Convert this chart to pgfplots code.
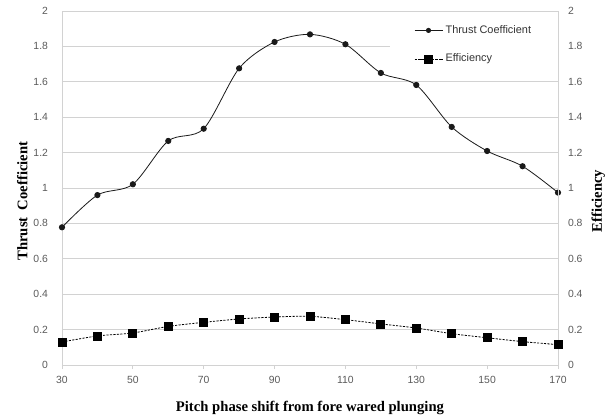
\documentclass[border=0pt]{standalone}
\usepackage{fontspec}
\setmainfont{Liberation Serif}
\newfontfamily\tickfont{Liberation Sans}
\usepackage{pgfplots}
\pgfplotsset{compat=1.18}
\definecolor{gridc}{RGB}{210,210,210}
\definecolor{tickc}{RGB}{90,90,90}
\begin{document}
\begin{tikzpicture}
\useasboundingbox (-46.5pt,-39.75pt) rectangle (414.75pt,273.75pt);
\begin{axis}[
  scale only axis, width=372pt, height=265.5pt,
  xmin=30, xmax=170, ymin=0, ymax=2,
  xtick={30,50,...,170},
  ytick={0,0.2,...,2.01},
  axis line style={gridc},
  ymajorgrids, grid style={gridc, line width=0.6pt},
  /pgf/number format/assume math mode=true,
  ticklabel style={font=\tickfont\fontsize{7.8}{9}\selectfont, text=tickc},
  x tick style={gridc, line width=0.6pt}, xtick pos=lower, tick align=outside,
  major tick length=3pt,
  y tick style={draw=none}, ytick pos=left,
  yticklabel style={xshift=-4pt},
  xticklabel style={yshift=-2pt},
  xlabel={Pitch phase shift from fore wared plunging},
  ylabel={Thrust\ \ Coefficient},
  label style={font=\fontsize{11}{13}\selectfont\bfseries},
  ylabel style={at={(ticklabel cs:0.463)}},
  xlabel shift=6pt, ylabel shift=-2.5pt,
]
\addplot[black!90, line width=0.6pt, smooth, tension=0.5, mark=*, mark size=2pt] coordinates {
(30,0.778) (40,0.960) (50,1.021) (60,1.266) (70,1.335) (80,1.676) (90,1.825) (100,1.868)
(110,1.812) (120,1.650) (130,1.582) (140,1.345) (150,1.209) (160,1.123) (170,0.974)};
\end{axis}
\begin{axis}[
  scale only axis, width=372pt, height=265.5pt,
  xmin=30, xmax=170, ymin=0, ymax=2,
  axis x line=none, axis y line*=right,
  ytick={0,0.2,...,2.01},
  axis line style={gridc},
  /pgf/number format/assume math mode=true,
  ticklabel style={font=\tickfont\fontsize{7.8}{9}\selectfont, text=tickc},
  y tick style={draw=none},
  yticklabel style={xshift=4pt},
  ylabel={Efficiency},
  label style={font=\fontsize{11}{13}\selectfont\bfseries},
  ylabel style={at={(ticklabel cs:0.463)}},
  ylabel shift=0pt,
  legend style={at={(rel axis cs:0.661,0.99)}, anchor=north west, draw=none, fill=white,
    inner xsep=18pt, inner ysep=6pt, row sep=10pt,
    font=\tickfont\fontsize{8.2}{10}\selectfont, text=black!80},
  legend cell align=left,
  legend image code/.code={\draw[mark repeat=2,mark phase=2,#1] plot coordinates {(0pt,0pt) (10.5pt,0pt) (21pt,0pt)};},
]
\addlegendimage{black!90, line width=0.6pt, mark=*, mark size=1.6pt}
\addlegendentry{Thrust Coefficient}
\addplot[black, line width=0.6pt, dash pattern=on 1.6pt off 1pt, smooth, tension=0.5, mark=square*, mark size=3pt, mark options={solid}] coordinates {
(30,0.130) (40,0.164) (50,0.181) (60,0.218) (70,0.241) (80,0.260) (90,0.271) (100,0.275)
(110,0.256) (120,0.232) (130,0.209) (140,0.177) (150,0.154) (160,0.132) (170,0.115)};
\addlegendentry{Efficiency}
\end{axis}
\end{tikzpicture}
\end{document}
